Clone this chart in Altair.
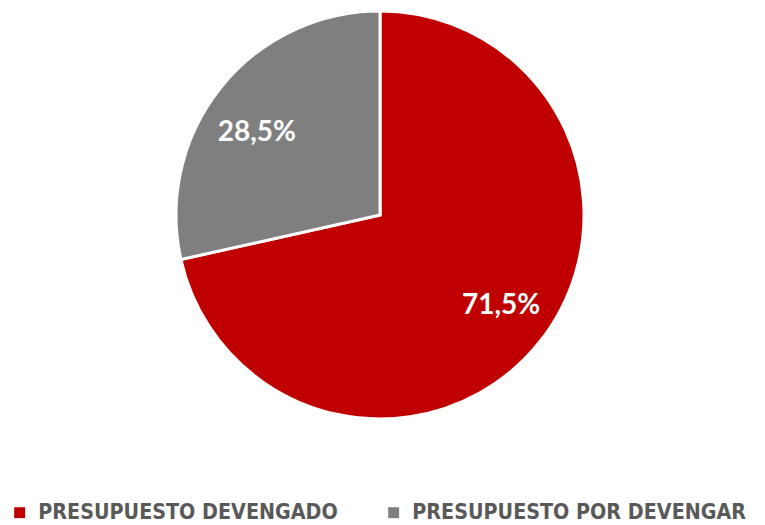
import altair as alt
import pandas as pd

categories = ["PRESUPUESTO DEVENGADO", "PRESUPUESTO POR DEVENGAR"]
values = [71.5, 28.5]
labels = ["71,5%", "28,5%"]
colors = ["#C00000", "#7F7F7F"]

df = pd.DataFrame({"cat": categories, "val": values, "lab": labels, "ord": [0, 1]})

theta_scale = alt.Scale(domain=[0, 100])

pie = alt.Chart(df).mark_arc(stroke="white", strokeWidth=3, radius=204).encode(
    theta=alt.Theta("val:Q", stack=True, scale=theta_scale),
    order=alt.Order("ord:Q"),
    x=alt.value(372), y=alt.value(207),
    color=alt.Color(
        "cat:N",
        scale=alt.Scale(domain=categories, range=colors),
        legend=alt.Legend(
            title=None, orient="none", legendX=1, legendY=494,
            direction="horizontal", symbolType="square", symbolSize=120,
            symbolStrokeWidth=0, labelFont="DejaVu Sans Condensed",
            labelFontSize=21.3, labelFontWeight="bold", labelColor="#595959",
            columnPadding=45, labelOffset=8, labelLimit=400,
        ),
    ),
)

text_base = alt.Chart(df).transform_window(
    cum="sum(val)", sort=[alt.SortField("ord")]
).transform_calculate(mid="datum.cum - datum.val / 2")


def label_layer(o, dx, dy):
    return text_base.transform_filter(alt.datum.ord == o).mark_text(
        radius=150, font="Lato", fontSize=28, fontWeight="bold", color="white",
        dx=dx, dy=dy,
    ).encode(
        theta=alt.Theta("mid:Q", scale=theta_scale),
        x=alt.value(372), y=alt.value(207), text="lab:N",
    )


chart = (pie + label_layer(0, 4, -3) + label_layer(1, -6, 12)).properties(
    width=749, height=515, padding=0, autosize=alt.AutoSizeParams(type="none")
).configure_view(stroke=None)

chart.save("out.html", embed_options={"renderer": "svg", "actions": False})
